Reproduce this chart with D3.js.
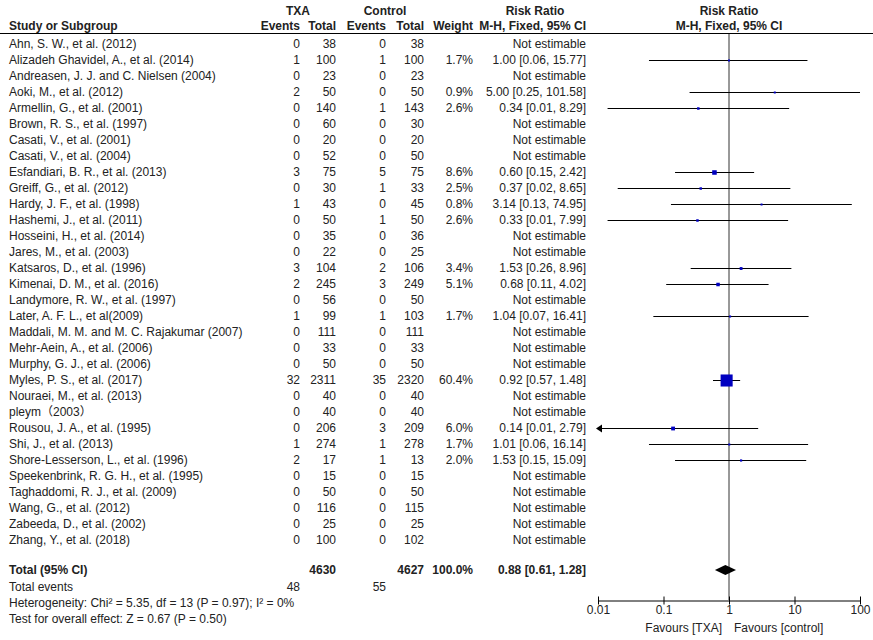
<!DOCTYPE html>
<html>
<head>
<meta charset="utf-8">
<script src="https://cdn.jsdelivr.net/npm/d3@7"></script>
<style>
  body { margin: 0; background: #fff; }
  svg text { font-family: "Liberation Sans", Arial, "Noto Sans CJK SC", sans-serif; font-size: 12px; fill: #222; }
  .b { font-weight: bold; }
</style>
</head>
<body>
<svg id="chart" width="873" height="640"></svg>
<script>
// studies, events / totals per arm
const studies = [
  "Ahn, S. W., et al. (2012)", "Alizadeh Ghavidel, A., et al. (2014)", "Andreasen, J. J. and C. Nielsen (2004)",
  "Aoki, M., et al. (2012)", "Armellin, G., et al. (2001)", "Brown, R. S., et al. (1997)",
  "Casati, V., et al. (2001)", "Casati, V., et al. (2004)", "Esfandiari, B. R., et al. (2013)",
  "Greiff, G., et al. (2012)", "Hardy, J. F., et al. (1998)", "Hashemi, J., et al. (2011)",
  "Hosseini, H., et al. (2014)", "Jares, M., et al. (2003)", "Katsaros, D., et al. (1996)",
  "Kimenai, D. M., et al. (2016)", "Landymore, R. W., et al. (1997)", "Later, A. F. L., et al(2009)",
  "Maddali, M. M. and M. C. Rajakumar (2007)", "Mehr-Aein, A., et al. (2006)", "Murphy, G. J., et al. (2006)",
  "Myles, P. S., et al. (2017)", "Nouraei, M., et al. (2013)", "pleym（2003）",
  "Rousou, J. A., et al. (1995)", "Shi, J., et al. (2013)", "Shore-Lesserson, L., et al. (1996)",
  "Speekenbrink, R. G. H., et al. (1995)", "Taghaddomi, R. J., et al. (2009)", "Wang, G., et al. (2012)",
  "Zabeeda, D., et al. (2002)", "Zhang, Y., et al. (2018)"
];
const txaEvents = [0,1,0,2,0,0,0,0,3,0,1,0,0,0,3,2,0,1,0,0,0,32,0,0,0,1,2,0,0,0,0,0];
const txaTotal  = [38,100,23,50,140,60,20,52,75,30,43,50,35,22,104,245,56,99,111,33,50,2311,40,40,206,274,17,15,50,116,25,100];
const ctlEvents = [0,1,0,0,1,0,0,0,5,1,0,1,0,0,2,3,0,1,0,0,0,35,0,0,3,1,1,0,0,0,0,0];
const ctlTotal  = [38,100,23,50,143,30,20,50,75,33,45,50,36,25,106,249,50,103,111,33,50,2320,40,40,209,278,13,15,50,115,25,102];
// weight %, risk ratio and 95% CI (null = not estimable)
const weight = [null,1.7,null,0.9,2.6,null,null,null,8.6,2.5,0.8,2.6,null,null,3.4,5.1,null,1.7,null,null,null,60.4,null,null,6.0,1.7,2.0,null,null,null,null,null];
const rr     = [null,1.00,null,5.00,0.34,null,null,null,0.60,0.37,3.14,0.33,null,null,1.53,0.68,null,1.04,null,null,null,0.92,null,null,0.14,1.01,1.53,null,null,null,null,null];
const ciLow  = [null,0.06,null,0.25,0.014,null,null,null,0.15,0.02,0.13,0.014,null,null,0.26,0.11,null,0.07,null,null,null,0.57,null,null,0.0075,0.06,0.15,null,null,null,null,null];
const ciHigh = [null,15.77,null,101.58,8.29,null,null,null,2.42,8.65,74.95,7.99,null,null,8.96,4.02,null,16.41,null,null,null,1.48,null,null,2.79,16.14,15.09,null,null,null,null,null];

const total = { txa: 4630, ctl: 4627, txaEvents: 48, ctlEvents: 55, weight: "100.0%", rr: 0.88, lo: 0.61, hi: 1.28 };
const axisTicks = [0.01, 0.1, 1, 10, 100];
const footnotes = [
  "Heterogeneity: Chi² = 5.35, df = 13 (P = 0.97); I² = 0%",
  "Test for overall effect: Z = 0.67 (P = 0.50)"
];

const svg = d3.select("#chart");
const f2 = d3.format(".2f");
const ciText = i => rr[i] == null ? "Not estimable"
  : `${f2(rr[i])} [${f2(ciLow[i])}, ${f2(ciHigh[i])}]`;

const y = d3.scaleLinear().domain([0, studies.length - 1]).range([44, 540]);
const x = d3.scaleLog().domain([0.01, 100]).range([598, 860]);
const col = { study: 9, te: 300, tt: 336, ce: 386, ct: 424, w: 473, ci: 586 };

const txt = (g, xx, yy, s, anchor, cls) =>
  g.append("text").attr("x", xx).attr("y", yy).attr("dy", "0.35em")
    .attr("text-anchor", anchor || "start").attr("class", cls || null).text(s);

// header
const hd = svg.append("g");
txt(hd, 298, 11, "TXA", "middle", "b");
txt(hd, 385, 11, "Control", "middle", "b");
txt(hd, 535, 11, "Risk Ratio", "middle", "b");
txt(hd, 729, 11, "Risk Ratio", "middle", "b");
txt(hd, col.study, 26, "Study or Subgroup", "start", "b");
txt(hd, col.te, 26, "Events", "end", "b");
txt(hd, col.tt, 26, "Total", "end", "b");
txt(hd, col.ce, 26, "Events", "end", "b");
txt(hd, col.ct, 26, "Total", "end", "b");
txt(hd, col.w, 26, "Weight", "end", "b");
txt(hd, col.ci, 26, "M-H, Fixed, 95% CI", "end", "b");
txt(hd, 729, 26, "M-H, Fixed, 95% CI", "middle", "b");
svg.append("line").attr("x1", 0).attr("x2", 873).attr("y1", 33.5).attr("y2", 33.5)
  .attr("stroke", "#000").attr("stroke-width", 1);

// null line
svg.append("line").attr("x1", x(1)).attr("x2", x(1)).attr("y1", 34).attr("y2", 600)
  .attr("stroke", "#333").attr("stroke-width", 1);

// table rows
const rows = svg.append("g").selectAll("g").data(studies).join("g")
  .attr("transform", (d, i) => `translate(0,${y(i)})`);
rows.each(function(d, i) {
  const g = d3.select(this);
  txt(g, col.study, 0, d);
  txt(g, col.te, 0, txaEvents[i], "end");
  txt(g, col.tt, 0, txaTotal[i], "end");
  txt(g, col.ce, 0, ctlEvents[i], "end");
  txt(g, col.ct, 0, ctlTotal[i], "end");
  if (weight[i] != null) txt(g, col.w, 0, weight[i].toFixed(1) + "%", "end");
  txt(g, col.ci, 0, ciText(i), "end");

  if (rr[i] == null) return;
  const [lo, hi] = x.domain();
  const x1 = x(Math.max(ciLow[i], lo)), x2 = x(Math.min(ciHigh[i], hi));
  g.append("line").attr("x1", x1).attr("x2", x2).attr("y1", 0.5).attr("y2", 0.5)
    .attr("stroke", "#000").attr("stroke-width", 1);
  if (ciLow[i] < lo) {
    g.append("path").attr("d", `M${x1 - 2},0.5 L${x1 + 4},-3.5 L${x1 + 4},4.5 Z`).attr("fill", "#000");
  }
  const s = Math.max(2, 1.55 * Math.sqrt(weight[i]));
  g.append("rect").attr("x", x(rr[i]) - s / 2).attr("y", 0.5 - s / 2)
    .attr("width", s).attr("height", s).attr("fill", "#0000c0");
});

// total row
const yt = 570;
txt(svg, col.study, yt, "Total (95% CI)", "start", "b");
txt(svg, col.tt, yt, total.txa, "end", "b");
txt(svg, col.ct, yt, total.ctl, "end", "b");
txt(svg, col.w, yt, total.weight, "end", "b");
txt(svg, col.ci, yt, `${f2(total.rr)} [${f2(total.lo)}, ${f2(total.hi)}]`, "end", "b");
svg.append("path")
  .attr("d", `M${x(total.lo)},${yt} L${x(total.rr)},${yt - 5} L${x(total.hi)},${yt} L${x(total.rr)},${yt + 5} Z`)
  .attr("fill", "#000");

txt(svg, col.study, 587, "Total events");
txt(svg, col.te, 587, total.txaEvents, "end");
txt(svg, col.ce, 587, total.ctlEvents, "end");
footnotes.forEach((s, i) => txt(svg, col.study, 603 + 16 * i, s));

// axis
const ax = svg.append("g").attr("transform", "translate(0,600.5)")
  .call(d3.axisBottom(x).tickValues(axisTicks).tickSize(4).tickSizeOuter(0).tickFormat(d => String(d)));
ax.select(".domain").attr("stroke", "#000");
ax.selectAll(".tick line").attr("y1", -4).attr("y2", 4).attr("stroke", "#000");
ax.selectAll(".tick text").attr("y", 5).attr("dy", "0.71em")
  .style("font-family", '"Liberation Sans", Arial, sans-serif').style("font-size", "12px").attr("fill", "#222");

txt(svg, 722, 628, "Favours [TXA]", "end");
txt(svg, 734, 628, "Favours [control]", "start");
</script>
</body>
</html>
